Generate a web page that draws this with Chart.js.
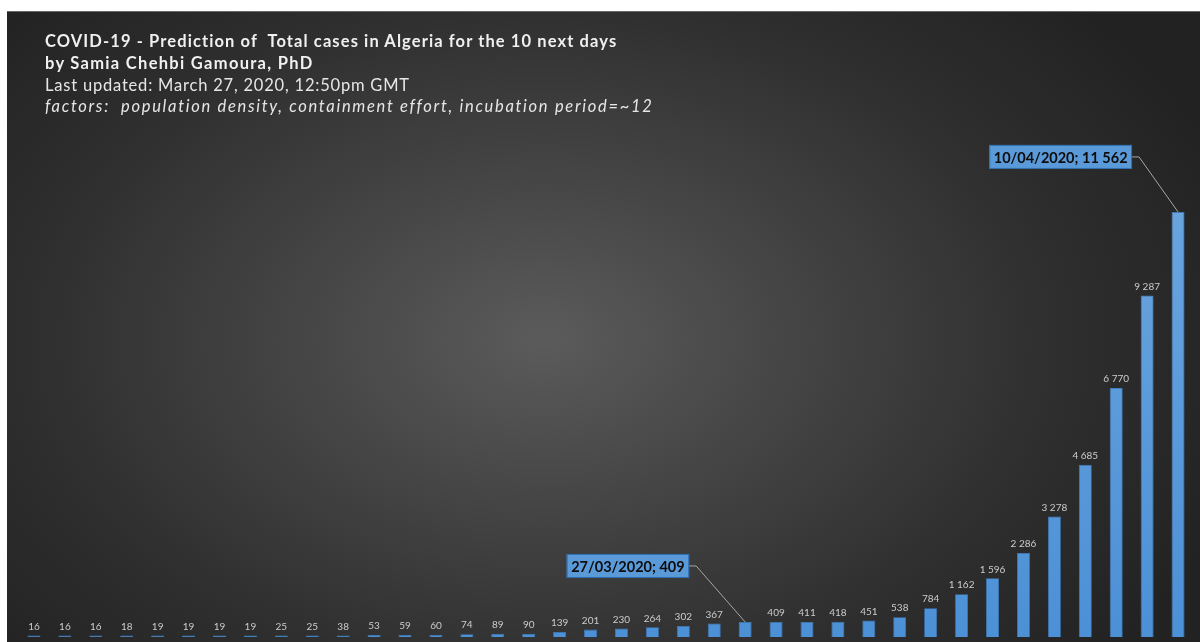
<!DOCTYPE html>
<html>
<head>
<meta charset="utf-8">
<script src="https://cdn.jsdelivr.net/npm/chart.js@4/dist/chart.umd.min.js"></script>
<style>
  html, body { margin:0; padding:0; background:#ffffff; width:1200px; height:642px; overflow:hidden; }
  #panel { position:absolute; left:7px; top:11px; width:1193px; height:631px;
    background: radial-gradient(ellipse 62% 78% at 45% 52%, #5b5b5b 0%, #444 35%, #2e2e2e 70%, #222 100%);
    border-top:1px solid #6a6a6a; box-sizing:border-box; }
  #wrap { position:absolute; left:0; top:0; width:1200px; height:642px; }
  #titles { position:absolute; left:45px; top:31px; font-family: Lato, "Open Sans", sans-serif; color:#f0f0f0; }
  #titles div { white-space:pre; height:21.8px; line-height:21.8px; }
  .t1 { font-weight:bold; font-size:16.5px; letter-spacing:1.1px; }
  .t2 { font-weight:bold; font-size:16.5px; letter-spacing:1.3px; }
  .t3 { font-size:16.5px; color:#e6e6e6; letter-spacing:0.8px; }
  .t4 { font-size:16.5px; font-style:italic; color:#e6e6e6; letter-spacing:1.7px; }
</style>
</head>
<body>
<div id="panel"></div>
<div id="wrap"><canvas id="c" width="1200" height="642"></canvas></div>
<div id="titles">
  <div class="t1">COVID-19 - Prediction of  Total cases in Algeria for the 10 next days</div>
  <div class="t2">by Samia Chehbi Gamoura, PhD</div>
  <div class="t3">Last updated: March 27, 2020, 12:50pm GMT</div>
  <div class="t4">factors:  population density, containment effort, incubation period=~12</div>
</div>
<script>
// ---- data ----
const dates = ['04/03/2020','05/03/2020','06/03/2020','07/03/2020','08/03/2020','09/03/2020','10/03/2020',
  '11/03/2020','12/03/2020','13/03/2020','14/03/2020','15/03/2020','16/03/2020','17/03/2020','18/03/2020',
  '19/03/2020','20/03/2020','21/03/2020','22/03/2020','23/03/2020','24/03/2020','25/03/2020','26/03/2020',
  '27/03/2020','28/03/2020','29/03/2020','30/03/2020','31/03/2020','01/04/2020','02/04/2020','03/04/2020',
  '04/04/2020','05/04/2020','06/04/2020','07/04/2020','08/04/2020','09/04/2020','10/04/2020'];
const totalCases = [16,16,16,18,19,19,19,19,25,25,38,53,59,60,74,89,90,139,201,230,264,302,367,
  409,409,411,418,451,538,784,1162,1596,2286,3278,4685,6770,9287,11562];
const calloutIndexes = [23, 37];

function fmt(v){ return String(v).replace(/\B(?=(\d{3})+(?!\d))/g, ' '); }

const labelPlugin = {
  id:'labels',
  afterDatasetsDraw(chart){
    const ctx = chart.ctx;
    const meta = chart.getDatasetMeta(0);
    ctx.save();
    ctx.font = '10px Lato, "Open Sans", sans-serif';
    ctx.fillStyle = '#cccccc';
    ctx.textAlign = 'center';
    ctx.textBaseline = 'bottom';
    meta.data.forEach((bar, i) => {
      if (calloutIndexes.includes(i)) return;
      ctx.fillText(fmt(totalCases[i]), bar.x, bar.y - 4);
    });
    // callouts
    ctx.font = 'bold 14.5px Lato, "Open Sans", sans-serif';
    calloutIndexes.forEach((idx, k) => {
      const bar = meta.data[idx];
      const text = dates[idx] + '; ' + fmt(totalCases[idx]);
      const w = ctx.measureText(text).width + 9;
      const h = 24;
      const right = bar.x - (k === 0 ? 56 : 46);
      const cy = bar.y - (k === 0 ? 56 : 55);
      // leader
      ctx.strokeStyle = '#a6a6a6';
      ctx.lineWidth = 1;
      ctx.beginPath();
      ctx.moveTo(right, cy);
      ctx.lineTo(right + 7, cy);
      ctx.lineTo(bar.x, bar.y);
      ctx.stroke();
      ctx.fillStyle = '#5a9ad8';
      ctx.fillRect(right - w, cy - h/2, w, h);
      ctx.strokeStyle = '#2f6fb0';
      ctx.strokeRect(right - w + 0.5, cy - h/2 + 0.5, w - 1, h - 1);
      ctx.fillStyle = '#0d0d0d';
      ctx.textAlign = 'center';
      ctx.textBaseline = 'middle';
      ctx.fillText(text, right - w/2, cy + 1);
    });
    ctx.restore();
  }
};

new Chart(document.getElementById('c'), {
  type:'bar',
  data:{
    labels: dates,
    datasets:[{
      data: totalCases,
      backgroundColor: (c) => {
        const a = c.chart.chartArea;
        if (!a) return '#5b9bd5';
        const g = c.chart.ctx.createLinearGradient(0, a.top, 0, a.bottom);
        g.addColorStop(0, '#76ade2');
        g.addColorStop(1, '#4c90d6');
        return g;
      },
      borderColor:'#3f7fc4',
      borderWidth:0.8,
      barPercentage:0.42,
      categoryPercentage:1,
      minBarLength:1.5
    }]
  },
  options:{
    responsive:false,
    animation:false,
    layout:{ padding:{ left:18.5, right:6.5, top:12, bottom:5 } },
    plugins:{ legend:{display:false}, tooltip:{enabled:false} },
    scales:{
      x:{ display:false },
      y:{ display:false, min:0, max:17000 }
    }
  },
  plugins:[labelPlugin]
});
</script>
</body>
</html>
